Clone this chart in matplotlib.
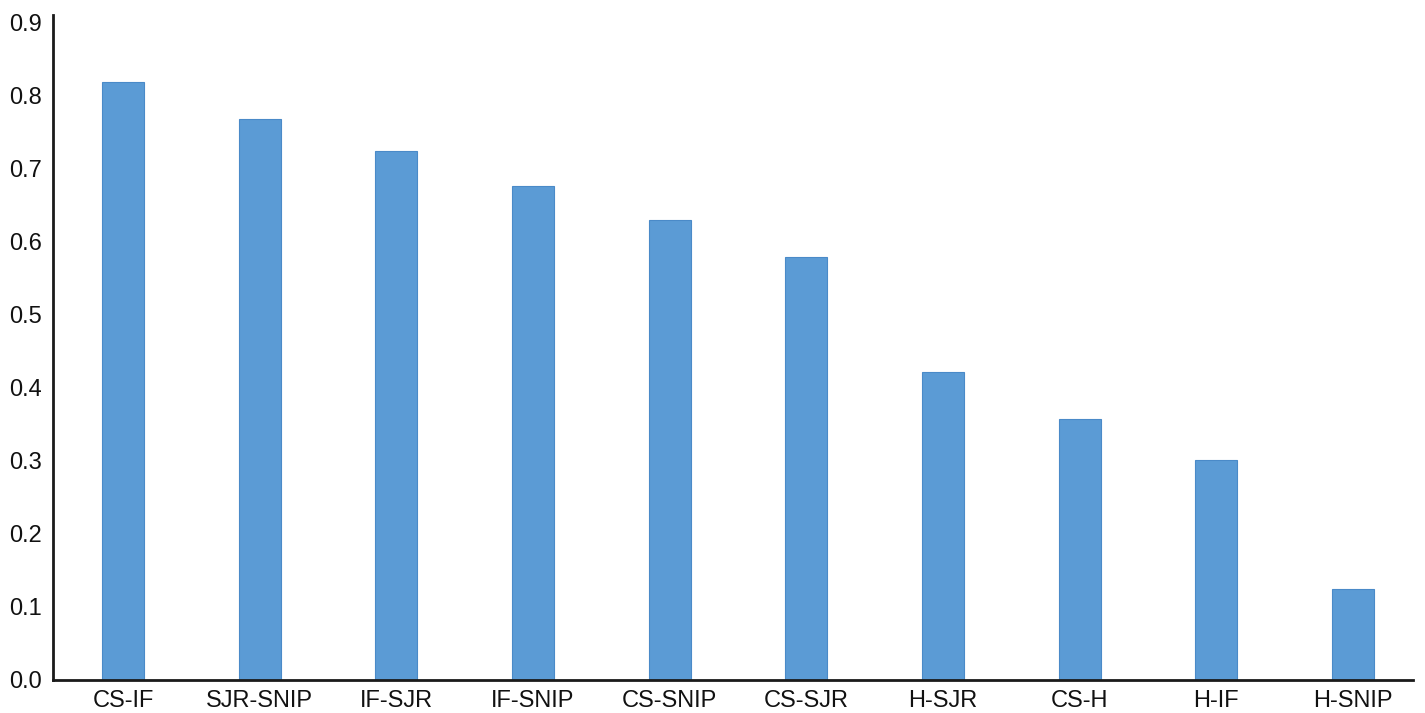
import matplotlib.pyplot as plt
import numpy as np

plt.rcParams['font.family'] = ['Liberation Sans', 'DejaVu Sans']

pairs = ['CS-IF', 'SJR-SNIP', 'IF-SJR', 'IF-SNIP', 'CS-SNIP',
         'CS-SJR', 'H-SJR', 'CS-H', 'H-IF', 'H-SNIP']
values = [0.818, 0.767, 0.724, 0.676, 0.629, 0.579, 0.421, 0.357, 0.301, 0.125]
yticks = [0.0, 0.1, 0.2, 0.3, 0.4, 0.5, 0.6, 0.7, 0.8, 0.9]

fig = plt.figure(figsize=(14.25, 7.13), dpi=100)
ax = fig.add_axes([0.0372, 0.0463, 0.9544, 0.9327])

x = np.arange(len(pairs))
ax.bar(x, values, width=0.307, color='#5B9BD5', edgecolor='#4A8AC8', linewidth=0.8)

ax.set_xlim(-0.512, 9.44)
ax.set_ylim(0, 0.91)
ax.set_xticks(x)
ax.set_xticklabels(pairs, fontsize=17, color='#111111')
ax.set_yticks(yticks)
ax.set_yticklabels([f'{t:.1f}' for t in yticks], fontsize=17, color='#111111')
ax.tick_params(axis='y', length=0, pad=8)
ax.tick_params(axis='x', length=0, pad=7)

for side in ['top', 'right']:
    ax.spines[side].set_visible(False)
for side in ['left', 'bottom']:
    ax.spines[side].set_linewidth(2)
    ax.spines[side].set_color('#1a1a1a')

fig.savefig('out.png', dpi=100)
